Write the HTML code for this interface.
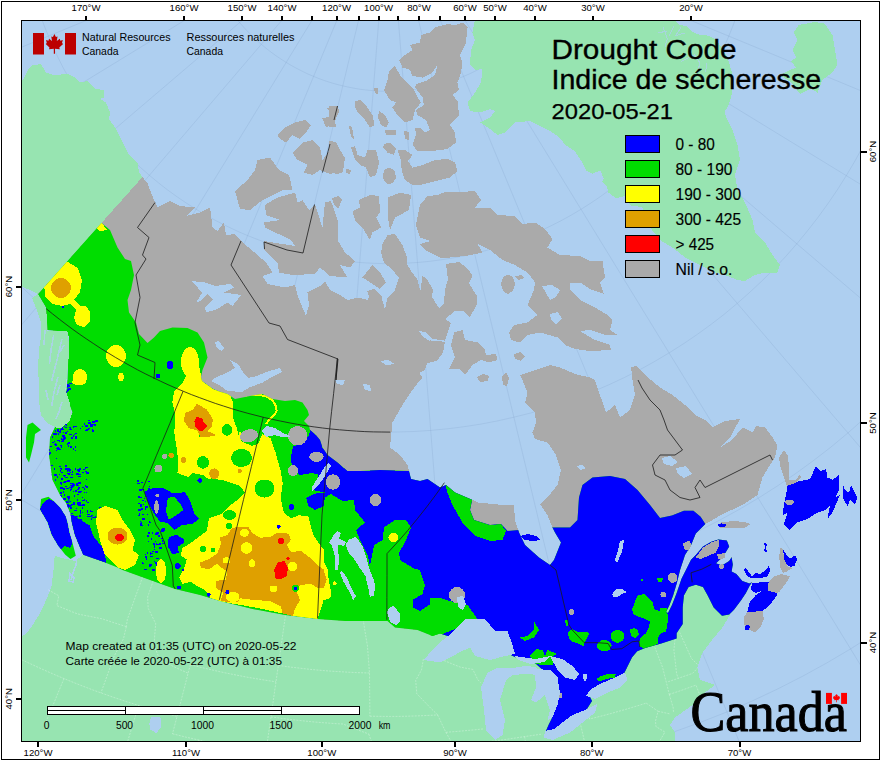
<!DOCTYPE html>
<html><head><meta charset="utf-8"><title>Drought Code</title>
<style>html,body{margin:0;padding:0;background:#fff}svg{display:block}text{font-family:"Liberation Sans",sans-serif;fill:#000}</style>
</head><body>
<svg width="880" height="760" viewBox="0 0 880 760" shape-rendering="crispEdges">
<defs><clipPath id="land">
<polygon points="142.5,177 148,184 150,190 155,202.5 157.5,207.5 170,201 180,206 195,207.5 186,216 200,212.5 210,207.5 212.5,227.5 217.5,231 224,222.5 226,235 235,234 241,241 257.5,255 266,262.5 272.5,272.5 262.5,276 267.5,284 285,287.5 295,285 297.5,295 302.5,307.5 306,316 309,305 307.5,292.5 320,286 325,281 330,290 340,295 347.5,300 357.5,297.5 367.5,300 372.5,292.5 381,295 385,310 387.5,297.5 395,290 399,277.5 405.6,262 411.5,271.7 417.5,279.6 420.4,291.4 422.4,275.6 427,279.5 433,289.5 432,297 439,308 444,303 445,289.5 448,279.5 446,264 459,262 467,268 472.5,275.5 469,283.5 477.5,297 476.5,305 470,317 463,311 455,311 445,319 451,323 449,329 445,340.7 433,339 425,332 419.5,332 431,340.7 445,341.7 443,352.5 437,360.5 427,363.5 425,370 419.5,373 422.5,378 417,384 412.5,390 402.5,405 392.5,422.5 390,447.5 400,455 407.5,465 411,479 420,481 427.5,479 440,487.5 446,485 455,492.5 472.5,500 477.5,502.5 502.5,505 514,505 515,520 519,532.5 525,545 539,557.5 550,565 554,560 561,542.5 555,532.5 552.5,527.5 547.5,515 540,504 547.5,497.5 557.5,485 561,470 556,455 547.5,442.5 535,439 532.5,432.5 536,422.5 535,412.5 525,402.5 527.5,392.5 522.5,380 520,375 532.5,371 550,365 560,367.5 575,374 590,377.5 595,380 600,395 606,412.5 615,405 620,417.5 630,410 635,395 632.5,380 631,367 636,366 645,375 660,387.5 672.5,395 685,405 695,415 705,420 712.5,427.5 725,421 740,419 730,437.5 720,447.5 732,440 742.5,427.5 752.5,432.5 756,426 765,427.5 772.5,437.5 777.5,445 775,457.5 770,465 762.5,477.5 757.5,495 742.5,505 722,514.3 710,521.5 705.3,523.9 695.8,533.4 691,545.3 685,555 680.3,569.2 676.7,583.5 673.1,595.5 669.5,605 666,612 668,613 672,605 676.7,593 681.5,578.8 686.3,569.2 691,559.7 695.8,555 703,546.5 711.3,541.8 718.5,539.4 726.8,540.6 729.2,546.5 725.6,552.5 719.7,559.7 716,563.2 722,565.6 729.2,560.9 731.6,557.3 732.8,564.4 731.6,571.6 736.4,574 742.3,581 749.5,583.5 751.9,582.3 749.5,586 745.9,593 741.1,600.2 734,609.8 729.2,614.6 722,615.8 713.7,607.4 707.7,595.5 703,587 695.8,584.7 688.6,587 683.9,595.5 682.7,607.4 682.7,624 676.6,633.3 676.6,638.4 661.2,643.5 645.8,647.8 637.2,651.2 632.1,657.2 627,667.5 624.5,672.6 607,688 590,697 592,701 585,712 565,725 550,736 545.5,732 549,724 552,718 553,700 550,685 545,672 535,663 515,657 500,650 480,640 460,640 440,633.5 432.5,636 417.5,630 395,627.5 387.5,621 370,621 345,621 317.5,619 285,615 252.5,609 220,601 200,595 175,589 150,580 122.5,570 117.5,567.5 105,562.5 83.2,554.7 79,545.3 74.7,534.7 71.6,522 70.5,513.7 66,503 60,495 52.5,480 49,455 50,437.5 56,425 68,420 72.5,412.5 66,395 67.5,380 69,336 57.5,331 47.5,330 46,307.5 38,294"/>
<polygon points="41,499 48.4,496.8 53.7,501 60,507.4 65.3,515.8 67.4,522 69.5,532.6 72.6,543.2 75.8,555.8 70.5,559 65.3,554.7 57.9,545.3 51.6,534.7 47.4,522 40,509.5"/>
<polygon points="27.5,425 32.5,422.5 41,430 35,434 34,442.5 31,455 29,462.5 26,457.5 26,437.5"/>
</clipPath><clipPath id="frame"><rect x="21" y="20" width="840" height="722"/></clipPath></defs>
<rect x="0" y="0" width="880" height="760" fill="#fff"/>
<rect x="21" y="20" width="840" height="722" fill="#aecff0"/>

<path d="M364.7 -98.8L-850.9 192.2 M365.9 -95.2L-789.1 382.5 M367.6 -91.7L-698.4 560.8 M369.9 -88.6L-580.9 722.7 M372.6 -85.9L-439.4 864.3 M375.7 -83.6L-277.6 981.9 M379.2 -81.9L-99.4 1072.8 M382.8 -80.7L90.9 1134.7 M386.7 -80.1L288.5 1166.0 M390.5 -80.1L488.6 1166.0 M394.3 -80.7L686.2 1134.7 M398.0 -81.9L876.5 1072.8 M401.4 -83.6L1054.8 981.9 M404.6 -85.9L1216.6 864.3 M407.3 -88.6L1358.0 722.7 M409.5 -91.7L1475.6 560.8 M411.3 -95.2L1566.3 382.5 M412.5 -98.8L1628.0 192.2 M413.1 -102.6L1659.2 -5.5 M-492.4 -174.6 L-494.2 -146.9 L-495.1 -119.1 L-495.1 -91.3 L-494.3 -63.6 L-492.5 -35.8 L-489.9 -8.2 L-486.5 19.4 L-482.2 46.8 L-477.0 74.1 L-470.9 101.2 L-464.0 128.1 L-456.3 154.8 L-447.7 181.2 L-438.3 207.4 L-428.1 233.2 L-417.1 258.7 L-405.3 283.8 L-392.7 308.6 L-379.3 332.9 L-365.2 356.9 L-350.3 380.3 L-334.7 403.3 L-318.4 425.8 L-301.4 447.7 L-283.7 469.1 L-265.3 490.0 L-246.3 510.2 L-226.7 529.9 L-206.5 548.9 L-185.6 567.3 L-164.2 585.0 L-142.3 602.0 L-119.8 618.4 L-96.8 634.0 L-73.4 648.9 L-49.5 663.0 L-25.2 676.4 L-0.4 689.0 L24.7 700.9 L50.2 711.9 L76.0 722.1 L102.2 731.5 L128.6 740.1 L155.3 747.9 L182.2 754.8 L209.3 760.9 L236.6 766.1 L264.0 770.4 L291.6 773.9 L319.2 776.5 L346.9 778.3 L374.7 779.1 L402.5 779.1 L430.2 778.3 L458.0 776.5 L485.6 773.9 L513.2 770.4 L540.6 766.1 L567.9 760.9 L595.0 754.8 L621.9 747.9 L648.6 740.1 L675.0 731.5 L701.1 722.1 L727.0 711.9 L752.4 700.9 L777.6 689.0 L802.3 676.4 L826.7 663.0 L850.6 648.9 L874.0 634.0 L897.0 618.4 L919.5 602.0 L941.4 585.0 L962.8 567.3 L983.6 548.9 L1003.9 529.9 L1023.5 510.2 L1042.5 490.0 L1060.9 469.1 L1078.6 447.7 L1095.6 425.8 L1111.9 403.3 L1127.5 380.3 L1142.4 356.9 L1156.5 332.9 L1169.9 308.6 L1182.5 283.8 L1194.3 258.7 L1205.3 233.2 L1215.5 207.4 L1224.9 181.2 L1233.5 154.8 L1241.2 128.1 L1248.1 101.2 L1254.1 74.1 L1259.3 46.8 L1263.7 19.4 L1267.1 -8.2 L1269.7 -35.8 L1271.4 -63.6 L1272.3 -91.3 L1272.3 -119.1 L1271.4 -146.9 L1269.6 -174.6 M-316.3 -160.6 L-317.7 -138.4 L-318.4 -116.2 L-318.4 -94.0 L-317.7 -71.8 L-316.3 -49.6 L-314.3 -27.5 L-311.5 -5.4 L-308.0 16.5 L-303.9 38.4 L-299.1 60.1 L-293.5 81.6 L-287.4 102.9 L-280.5 124.1 L-273.0 145.0 L-264.8 165.7 L-256.0 186.1 L-246.5 206.2 L-236.5 226.0 L-225.8 245.5 L-214.5 264.6 L-202.6 283.4 L-190.1 301.7 L-177.0 319.7 L-163.4 337.3 L-149.3 354.4 L-134.6 371.1 L-119.4 387.3 L-103.7 403.0 L-87.5 418.2 L-70.8 432.9 L-53.7 447.1 L-36.1 460.7 L-18.2 473.8 L0.2 486.3 L19.0 498.2 L38.1 509.5 L57.6 520.2 L77.4 530.3 L97.5 539.8 L117.9 548.6 L138.5 556.8 L159.4 564.4 L180.6 571.2 L201.9 577.4 L223.4 583.0 L245.1 587.8 L267.0 592.0 L288.9 595.4 L311.0 598.2 L333.1 600.3 L355.3 601.7 L377.5 602.4 L399.7 602.4 L421.9 601.7 L444.1 600.3 L466.2 598.2 L488.3 595.4 L510.2 592.0 L532.0 587.8 L553.7 583.0 L575.2 577.4 L596.6 571.2 L617.7 564.4 L638.6 556.8 L659.3 548.6 L679.7 539.8 L699.8 530.3 L719.6 520.2 L739.1 509.5 L758.2 498.2 L776.9 486.3 L795.3 473.8 L813.3 460.7 L830.9 447.1 L848.0 432.9 L864.6 418.2 L880.8 403.0 L896.5 387.3 L911.7 371.1 L926.4 354.4 L940.6 337.3 L954.2 319.7 L967.3 301.7 L979.7 283.4 L991.6 264.6 L1002.9 245.5 L1013.6 226.0 L1023.7 206.2 L1033.2 186.1 L1042.0 165.7 L1050.2 145.0 L1057.7 124.1 L1064.5 102.9 L1070.7 81.6 L1076.2 60.1 L1081.1 38.4 L1085.2 16.5 L1088.7 -5.4 L1091.4 -27.5 L1093.5 -49.6 L1094.9 -71.8 L1095.6 -94.0 L1095.6 -116.2 L1094.8 -138.4 L1093.4 -160.6 M-146.4 -147.1 L-147.4 -130.3 L-148.0 -113.4 L-148.0 -96.5 L-147.5 -79.7 L-146.4 -62.8 L-144.9 -46.0 L-142.8 -29.3 L-140.1 -12.6 L-137.0 3.9 L-133.3 20.4 L-129.1 36.7 L-124.4 52.9 L-119.2 69.0 L-113.5 84.8 L-107.3 100.5 L-100.6 116.0 L-93.5 131.3 L-85.8 146.3 L-77.7 161.1 L-69.1 175.6 L-60.1 189.9 L-50.6 203.8 L-40.7 217.5 L-30.4 230.8 L-19.6 243.8 L-8.5 256.5 L3.1 268.8 L15.0 280.7 L27.3 292.2 L39.9 303.4 L52.9 314.2 L66.2 324.5 L79.9 334.4 L93.8 343.9 L108.1 352.9 L122.6 361.5 L137.4 369.7 L152.4 377.3 L167.6 384.5 L183.1 391.2 L198.8 397.4 L214.7 403.1 L230.7 408.3 L246.9 413.1 L263.2 417.2 L279.7 420.9 L296.3 424.1 L312.9 426.7 L329.7 428.8 L346.5 430.4 L363.3 431.5 L380.2 432.0 L397.0 432.0 L413.9 431.5 L430.7 430.4 L447.5 428.8 L464.2 426.7 L480.9 424.1 L497.5 420.9 L513.9 417.2 L530.3 413.1 L546.5 408.3 L562.5 403.1 L578.4 397.4 L594.0 391.2 L609.5 384.5 L624.8 377.3 L639.8 369.7 L654.6 361.5 L669.1 352.9 L683.3 343.9 L697.3 334.4 L710.9 324.5 L724.3 314.2 L737.2 303.4 L749.9 292.2 L762.2 280.7 L774.1 268.8 L785.7 256.5 L796.8 243.8 L807.5 230.8 L817.9 217.5 L827.8 203.8 L837.3 189.9 L846.3 175.6 L854.9 161.1 L863.0 146.3 L870.6 131.3 L877.8 116.0 L884.5 100.5 L890.7 84.8 L896.4 69.0 L901.6 52.9 L906.3 36.7 L910.5 20.4 L914.2 3.9 L917.3 -12.6 L919.9 -29.3 L922.0 -46.0 L923.6 -62.8 L924.7 -79.7 L925.2 -96.5 L925.2 -113.4 L924.6 -130.3 L923.5 -147.1 M21.6 -133.7 L20.8 -122.2 L20.5 -110.6 L20.5 -99.0 L20.8 -87.5 L21.5 -75.9 L22.6 -64.4 L24.0 -52.9 L25.9 -41.5 L28.0 -30.1 L30.5 -18.8 L33.4 -7.6 L36.6 3.5 L40.2 14.5 L44.1 25.4 L48.4 36.1 L52.9 46.8 L57.9 57.2 L63.1 67.6 L68.7 77.7 L74.6 87.7 L80.8 97.4 L87.3 107.0 L94.1 116.4 L101.2 125.5 L108.5 134.4 L116.2 143.1 L124.1 151.6 L132.3 159.7 L140.7 167.7 L149.4 175.3 L158.3 182.7 L167.4 189.8 L176.8 196.6 L186.4 203.1 L196.1 209.3 L206.1 215.2 L216.2 220.8 L226.5 226.0 L237.0 231.0 L247.6 235.6 L258.4 239.8 L269.3 243.7 L280.3 247.3 L291.4 250.6 L302.6 253.4 L313.9 256.0 L325.3 258.1 L336.7 259.9 L348.2 261.4 L359.7 262.5 L371.2 263.2 L382.8 263.6 L394.4 263.6 L405.9 263.2 L417.5 262.5 L429.0 261.4 L440.5 259.9 L451.9 258.1 L463.3 256.0 L474.6 253.4 L485.8 250.6 L496.9 247.3 L507.9 243.7 L518.8 239.8 L529.5 235.6 L540.2 231.0 L550.6 226.0 L560.9 220.8 L571.1 215.2 L581.0 209.3 L590.8 203.1 L600.4 196.6 L609.7 189.8 L618.9 182.7 L627.8 175.3 L636.5 167.7 L644.9 159.7 L653.1 151.6 L661.0 143.1 L668.6 134.4 L676.0 125.5 L683.1 116.4 L689.9 107.0 L696.4 97.4 L702.6 87.7 L708.5 77.7 L714.1 67.6 L719.3 57.2 L724.2 46.8 L728.8 36.1 L733.1 25.4 L737.0 14.5 L740.5 3.5 L743.8 -7.6 L746.6 -18.8 L749.2 -30.1 L751.3 -41.5 L753.1 -52.9 L754.6 -64.4 L755.6 -75.9 L756.4 -87.5 L756.7 -99.0 L756.7 -110.6 L756.3 -122.2 L755.6 -133.7 M193.3 -120.1 L192.9 -113.9 L192.7 -107.8 L192.7 -101.6 L192.9 -95.5 L193.3 -89.3 L193.9 -83.2 L194.6 -77.1 L195.6 -71.0 L196.7 -65.0 L198.1 -59.0 L199.6 -53.0 L201.3 -47.1 L203.2 -41.2 L205.3 -35.4 L207.6 -29.7 L210.0 -24.0 L212.6 -18.5 L215.4 -13.0 L218.4 -7.6 L221.5 -2.3 L224.8 2.9 L228.3 8.0 L231.9 13.0 L235.7 17.8 L239.6 22.6 L243.7 27.2 L247.9 31.7 L252.2 36.1 L256.7 40.3 L261.3 44.3 L266.1 48.3 L270.9 52.0 L275.9 55.7 L281.0 59.1 L286.2 62.4 L291.5 65.6 L296.9 68.5 L302.4 71.3 L307.9 74.0 L313.6 76.4 L319.3 78.7 L325.1 80.8 L331.0 82.7 L336.9 84.4 L342.8 85.9 L348.8 87.2 L354.9 88.4 L361.0 89.4 L367.1 90.1 L373.2 90.7 L379.4 91.1 L385.5 91.3 L391.7 91.3 L397.8 91.1 L404.0 90.7 L410.1 90.1 L416.2 89.4 L422.3 88.4 L428.3 87.2 L434.3 85.9 L440.3 84.4 L446.2 82.7 L452.1 80.8 L457.9 78.7 L463.6 76.4 L469.2 74.0 L474.8 71.3 L480.3 68.5 L485.7 65.6 L491.0 62.4 L496.2 59.1 L501.3 55.7 L506.2 52.0 L511.1 48.3 L515.8 44.3 L520.5 40.3 L525.0 36.1 L529.3 31.7 L533.5 27.2 L537.6 22.6 L541.5 17.8 L545.3 13.0 L548.9 8.0 L552.4 2.9 L555.7 -2.3 L558.8 -7.6 L561.7 -13.0 L564.5 -18.5 L567.2 -24.0 L569.6 -29.7 L571.9 -35.4 L573.9 -41.2 L575.8 -47.1 L577.6 -53.0 L579.1 -59.0 L580.4 -65.0 L581.6 -71.0 L582.5 -77.1 L583.3 -83.2 L583.9 -89.3 L584.3 -95.5 L584.4 -101.6 L584.4 -107.8 L584.2 -113.9 L583.8 -120.1" fill="none" stroke="#7f9dc4" stroke-opacity="0.32" stroke-width="0.7" shape-rendering="auto" clip-path="url(#frame)"/>
<polygon points="20,84 24,78 28,70 32,65.5 41,64 46,72.5 54,75 67.5,74 75,77.5 80,82.5 87.5,81 95,89 104,90 104,97.5 100,99 106,102.5 110,112.5 109,119 115,127.5 120,137.5 129,155 137.5,162.5 139,172.5 142.5,177 38,294 30,290 20,286" fill="#97e4b1" />
<polygon points="475,19 674,19 679.5,24.8 686.4,26.2 691.8,31.6 698.6,34.4 708.2,35.7 716.4,39.8 721.8,48 727.3,57.5 730,65.7 732.7,75.3 732.7,86.2 731.4,95.7 728.6,105.3 724.5,112 727.3,120 732.5,130 737.5,145 740,160 735,175 737.5,190 745,202.5 752.5,220 755,232.5 765,242.5 772.5,255 780,265 777.5,272.5 765,272.5 755,275 745,281 737.5,280 727.5,276 715,272.5 700,265 685,257.5 672.5,247.5 660,240 652,230 648,220 641.8,207 630.7,205.5 624.3,196 616.4,198.3 608.4,192.7 606.8,186.4 602,181.6 603.6,178.4 600.5,170.5 592.5,173.6 586,170.5 581.4,161 575,151.4 565.5,145 559,137 549.5,130.7 540,126 530,121 515,122.5 505,132.5 497.5,135 490,129 480,122.5 490,117.5 495,111 490,109 480,112.5 470,111 467.5,102.5 475,92.5 481,82.5 482.5,69 475,70 470,65 471,50 475,40 472.5,32.5" fill="#97e4b1" />
<polygon points="798.75,25 815,22 825,23.75 832.5,35 835,50 837.5,65 832.5,72.5 822.5,80 817.5,92.5 810,88.75 800,93.75 791,82.5 780,75 790,70 796,67.5 791,61 796,57.5 792.5,50 797.5,40 793.75,32.5" fill="#97e4b1" />
<polygon points="54.7,555.8 58,557 75,561 83.2,554.7 300,560 660,600 700,575 730,615 722.5,627.5 710,642.5 702.5,652.5 697.5,667.5 700,680 715,685 705,692.5 692.5,705 675,717.5 670,725 675,732.5 675,743 20,743 20,638 22,636 26.3,633.7 32.6,625.3 39,614.7 45.3,602 49.5,591.6 51.6,585.3 53.7,568.4" fill="#97e4b1" />
<path d="M663.2 27.5L667.3 38.5L665.2 46.6M674 26.2L669.3 35.7M680.9 27.5L675.5 35.7L685 33M657.7 33L667.3 31M680.9 61.6L694.5 54.8L700 63L697.3 72.5M706.8 63L705.5 72.5" stroke="#aecff0" stroke-width="1" stroke-opacity="0.7" fill="none"/>
<path d="M48.3 589.8 L53.5 592.8 L58.8 595.8 L56.9 605.6 L63.8 608.4 L70.6 611.2 L77.5 613.9 L83.6 615.2 L89.8 616.4 L95.9 617.6 L102.1 618.8 L108.1 620.8 L114.1 622.8 L120.2 624.7 L126.3 626.6 M142.7 576.8 L139.6 585.3 L136.5 593.8 L133.4 602.3 L130.4 610.9 L127.3 619.5 L126.3 626.6 M126.3 626.6 L123.5 638.7 L118.9 647.3 L114.2 656.0 L110.9 665.2 L107.6 674.4 L104.3 683.6 L100.9 692.9 M13.1 655.5 L19.1 658.4 L25.2 661.4 L31.3 664.2 L37.4 667.0 L43.6 669.8 L49.7 672.5 L55.9 675.2 L62.1 677.8 L68.4 680.4 L74.6 682.9 L80.9 685.4 L87.2 687.8 L93.5 690.2 L99.8 692.5 L106.1 694.7 L112.5 697.0 L118.9 699.1 L125.3 701.3 L131.7 703.3 L138.1 705.3 L144.6 707.3 L151.0 709.2 L157.5 711.1 L164.0 712.9 L170.5 714.7 L177.0 716.4 M153.3 580.6 L150.5 588.8 L147.6 597.0 L148.2 608.2 L151.9 615.9 L155.7 623.6 L154.8 634.3 L154.0 645.1 L159.9 659.9 L166.9 663.3 L173.9 666.7 L181.0 670.0 L188.1 673.2 M190.3 664.7 L188.1 673.2 L185.9 681.8 L183.7 690.4 L181.5 699.0 L179.3 707.7 L177.0 716.4 L174.8 725.1 L172.5 733.8 M190.3 664.7 L196.4 666.2 L202.4 667.7 L208.5 669.1 L214.6 670.5 L220.7 671.9 L226.8 673.2 L232.9 674.4 L239.0 675.6 L245.2 676.8 L251.3 677.9 L257.5 678.9 L263.6 679.9 L269.8 680.9 L276.0 681.8 M285.9 612.5 L284.7 621.1 L283.4 629.7 L282.2 638.4 L281.0 647.0 L279.7 655.7 L278.5 664.4 L277.2 673.1 L276.0 681.8 L274.7 690.5 L273.5 699.3 L272.2 708.1 L271.0 716.9 L269.7 725.8 L268.4 734.6 L267.1 743.5 L265.9 752.4 M172.5 733.8 L179.1 735.4 L185.7 737.1 L192.4 738.6 L199.0 740.1 L205.6 741.6 L212.3 743.0 L218.9 744.4 L225.6 745.7 L232.3 746.9 L239.0 748.1 L245.7 749.3 L252.4 750.4 L259.1 751.4 L265.9 752.4 L272.6 753.4 L279.4 754.2 L286.1 755.1 L292.9 755.9 L291.9 764.8 L290.9 773.8 L289.9 782.8 M278.3 665.4 L284.8 666.3 L291.3 667.2 L297.8 667.9 L304.3 668.7 L310.8 669.4 L317.3 670.0 L323.8 670.6 L330.3 671.1 L336.9 671.5 L343.4 671.9 L349.9 672.3 L356.4 672.6 L363.0 672.8 L369.5 673.0 M271.0 716.9 L277.5 717.8 L284.0 718.7 L290.5 719.5 L297.1 720.2 L303.6 720.9 L310.2 721.6 L316.7 722.2 L323.3 722.7 L329.8 723.2 L336.4 723.7 L343.0 724.0 L349.4 726.6 L355.8 729.1 L362.3 731.6 L368.8 734.0 M363.2 619.4 L364.5 628.1 L365.9 636.9 L367.4 645.6 L368.1 654.7 L368.8 663.9 L369.5 673.0 L369.6 683.8 L369.7 694.5 L369.8 705.3 L369.9 716.2 M369.9 716.2 L376.7 716.3 L383.4 716.4 L390.2 716.4 L397.0 716.4 L403.7 716.3 L410.5 716.1 L417.3 715.9 L424.1 715.6 L430.8 715.3 L437.6 714.9 M423.4 659.1 L421.5 669.8 L415.7 680.5 L416.8 693.7 L423.6 700.8 L430.5 707.9 L437.6 714.9 M445.9 732.3 L453.4 731.7 L460.9 731.1 L468.3 730.4 L475.8 729.7 L483.3 728.9 M437.6 714.9 L441.7 723.6 L445.9 732.3 L452.7 744.4 L441.4 755.9 L438.2 770.6 L437.7 787.0 M378.0 768.7 L385.5 769.1 L393.0 769.5 L400.5 769.9 L408.0 770.2 L415.6 770.4 L423.1 770.5 L430.6 770.6 L438.2 770.6 M368.8 734.0 L373.8 748.4 L375.4 757.5 L376.9 766.5 L384.4 779.2 L394.2 788.3 M290.9 773.8 L298.0 774.6 L305.2 775.3 L312.4 775.9 L319.6 776.5 L326.8 777.1 L334.0 777.6 L341.2 778.0 L348.4 778.3 L355.6 778.6 L362.8 778.9 L370.0 779.0 L377.2 779.2 L384.4 779.2 M138.7 705.5 L136.0 714.1 L133.4 722.7 L130.7 731.3 L128.1 740.0 L125.4 748.6 L122.7 757.3 M64.0 678.6 L60.3 687.5 L56.6 696.5 L52.9 705.5 L49.1 714.6 L45.3 723.6 M199.0 740.1 L196.7 750.1 L194.5 760.1 L192.2 770.2 M488.4 741.6 L495.6 740.7 L502.9 739.8 L510.1 738.8 L517.4 737.7 L524.6 736.6 L533.5 735.3 L542.5 734.0 M488.4 741.6 L489.7 752.6 L491.0 763.6 L492.3 774.7 L493.6 785.8 M524.6 736.6 L526.3 747.5 L528.1 758.4 L529.9 769.4 L531.7 780.5 M578.6 716.1 L580.9 726.0 L583.2 735.9 L585.5 745.9 L589.2 761.8 M588.5 714.3 L589.7 719.0 L596.8 717.2 L603.9 715.4 L611.0 713.5 L618.1 711.5 L625.2 709.5 L632.2 707.4 L639.2 705.3 L646.2 703.1 M589.1 761.4 L596.2 759.7 L603.4 758.0 L610.5 756.2 L617.6 754.3 L624.6 752.4 L631.7 750.4 L638.7 748.4 L645.7 746.3 L652.7 744.2 M653.7 644.3 L658.1 655.8 L662.6 667.4 L664.8 676.4 L667.1 685.4 L669.3 694.4 M675.3 636.3 L673.9 650.1 L675.3 661.9 L676.6 673.7 L678.2 678.3 M668.2 681.7 L676.3 679.0 L684.4 676.2 L692.5 673.4 L697.5 668.2 M678.3 629.4 L682.7 639.1 L687.1 648.8 L691.5 658.5 L697.4 664.4 M669.3 694.4 L676.0 692.2 L682.7 689.9 L689.3 687.5 L696.0 685.1 L700.0 695.5 M669.3 694.4 L673.1 707.3 L673.6 712.9 M646.2 703.1 L658.1 711.3 L655.5 720.9 L655.9 726.5 L664.9 732.1 L657.4 745.0 M658.1 711.3 L670.4 714.0 M444.0 660.5 L452.1 663.9 L460.3 667.1 L466.6 668.3 L472.8 669.4 L477.7 679.5 L480.6 682.7" fill="none" stroke="#fff" stroke-opacity="0.42" stroke-width="0.7" stroke-dasharray="2 1.2" shape-rendering="auto" clip-path="url(#frame)"/>
<polygon points="151.2,716.8 160.8,717.6 161.0,727.0 156.5,733.2 150.4,729.6 149.3,723.7" fill="#aecff0"/>
<polygon points="142.5,177 148,184 150,190 155,202.5 157.5,207.5 170,201 180,206 195,207.5 186,216 200,212.5 210,207.5 212.5,227.5 217.5,231 224,222.5 226,235 235,234 241,241 257.5,255 266,262.5 272.5,272.5 262.5,276 267.5,284 285,287.5 295,285 297.5,295 302.5,307.5 306,316 309,305 307.5,292.5 320,286 325,281 330,290 340,295 347.5,300 357.5,297.5 367.5,300 372.5,292.5 381,295 385,310 387.5,297.5 395,290 399,277.5 405.6,262 411.5,271.7 417.5,279.6 420.4,291.4 422.4,275.6 427,279.5 433,289.5 432,297 439,308 444,303 445,289.5 448,279.5 446,264 459,262 467,268 472.5,275.5 469,283.5 477.5,297 476.5,305 470,317 463,311 455,311 445,319 451,323 449,329 445,340.7 433,339 425,332 419.5,332 431,340.7 445,341.7 443,352.5 437,360.5 427,363.5 425,370 419.5,373 422.5,378 417,384 412.5,390 402.5,405 392.5,422.5 390,447.5 400,455 407.5,465 411,479 420,481 427.5,479 440,487.5 446,485 455,492.5 472.5,500 477.5,502.5 502.5,505 514,505 515,520 519,532.5 525,545 539,557.5 550,565 554,560 561,542.5 555,532.5 552.5,527.5 547.5,515 540,504 547.5,497.5 557.5,485 561,470 556,455 547.5,442.5 535,439 532.5,432.5 536,422.5 535,412.5 525,402.5 527.5,392.5 522.5,380 520,375 532.5,371 550,365 560,367.5 575,374 590,377.5 595,380 600,395 606,412.5 615,405 620,417.5 630,410 635,395 632.5,380 631,367 636,366 645,375 660,387.5 672.5,395 685,405 695,415 705,420 712.5,427.5 725,421 740,419 730,437.5 720,447.5 732,440 742.5,427.5 752.5,432.5 756,426 765,427.5 772.5,437.5 777.5,445 775,457.5 770,465 762.5,477.5 757.5,495 742.5,505 722,514.3 710,521.5 705.3,523.9 695.8,533.4 691,545.3 685,555 680.3,569.2 676.7,583.5 673.1,595.5 669.5,605 666,612 668,613 672,605 676.7,593 681.5,578.8 686.3,569.2 691,559.7 695.8,555 703,546.5 711.3,541.8 718.5,539.4 726.8,540.6 729.2,546.5 725.6,552.5 719.7,559.7 716,563.2 722,565.6 729.2,560.9 731.6,557.3 732.8,564.4 731.6,571.6 736.4,574 742.3,581 749.5,583.5 751.9,582.3 749.5,586 745.9,593 741.1,600.2 734,609.8 729.2,614.6 722,615.8 713.7,607.4 707.7,595.5 703,587 695.8,584.7 688.6,587 683.9,595.5 682.7,607.4 682.7,624 676.6,633.3 676.6,638.4 661.2,643.5 645.8,647.8 637.2,651.2 632.1,657.2 627,667.5 624.5,672.6 607,688 590,697 592,701 585,712 565,725 550,736 545.5,732 549,724 552,718 553,700 550,685 545,672 535,663 515,657 500,650 480,640 460,640 440,633.5 432.5,636 417.5,630 395,627.5 387.5,621 370,621 345,621 317.5,619 285,615 252.5,609 220,601 200,595 175,589 150,580 122.5,570 117.5,567.5 105,562.5 83.2,554.7 79,545.3 74.7,534.7 71.6,522 70.5,513.7 66,503 60,495 52.5,480 49,455 50,437.5 56,425 68,420 72.5,412.5 66,395 67.5,380 69,336 57.5,331 47.5,330 46,307.5 38,294" fill="#aaaaaa" />
<polygon points="264,241 295,246 291,240 265,227.5 264,222.5 280,220 266,215 265,205 277.5,197.5 295,192.5 297.5,202.5 302.5,200 309,210 315,204 320,220 322.5,227.5 325,202.5 331,201 337.5,220 337.5,240 345,252.5 355,261 350,267.5 340,265 347.5,277.5 330,276 320,267.5 315,274 292.5,275 279,272.5 277.5,262.5 270,256 264,250" fill="#aaaaaa" />
<polygon points="257.5,160 270,157.5 279,170 289,175 292.5,190 282.5,190 262.5,200 250,210 240,209 235,191 247.5,180 255,170" fill="#aaaaaa" />
<polygon points="332,198 338,196 342,200 338,209 334,205" fill="#aaaaaa" />
<polygon points="352.5,211 360,207.5 359,200 370,195 379,196 380,212.5 376,217.5 381,227.5 372.5,232.5 370,240 364,230 355,220" fill="#aaaaaa" />
<polygon points="387.5,197.5 400,192.5 411,195 409,210 400,215 395,217.5 390,230 387.5,215" fill="#aaaaaa" />
<polygon points="382.5,244 387.5,235 395,234 402.5,245 407.5,259 406,268 399,278 392.5,270 384,262.5 381,252.5" fill="#aaaaaa" />
<polygon points="362.5,277.5 372.5,265 380,272.5 386,282.5 380,289 370,282.5" fill="#aaaaaa" />
<polygon points="367,291 374,289 382,296 378,302 370,299" fill="#aaaaaa" />
<polygon points="420,205 427.5,196 437.5,195 445,192 455,192.5 475,191 481,200 475,207.5 490,207.5 497.5,215 515,216 522.5,224 535,222.5 545,229 552.5,239 547.5,247.5 560,255 580,256 590,261 602.5,261 605,277.5 600,282.5 604,294 590,289 580,282.5 570,282.5 570,290 580,300 595,307.5 607.5,315 612.5,320 610,330 617.5,335 605,335 590,330 580,331 595,340 610,345 611,350 590,351 575,349 565,345 557.5,337.5 540,332.5 527.5,335 520,342.5 511,340 509,332.5 514,325 527.5,322.5 537.5,315 527.5,305 534,290 535,282.5 527.5,272.5 515,265 502.5,260 490,250 477.5,244 482.5,252.5 465,256 450,257.5 440,257.5 425,250 420,244 431,241 420,237.5 416,225" fill="#aaaaaa" />
<polygon points="454,332.5 462.5,330 465,340 477.5,342.5 485,350 486,355 496,354 497.5,360 489,362.5 481,360 472.5,365 465,375 459,369 449,369 455,357.5 451,345" fill="#aaaaaa" />
<polygon points="501,284 503,277 508,274.5 513,277 515,284 513,291 508,294 503,291" fill="#aaaaaa" />
<polygon points="515,276 522,275 524,278 518,280" fill="#aaaaaa" />
<polygon points="477,377 483,374 489,376 488,381 480,382" fill="#aaaaaa" />
<polygon points="514,354 520,352 525,356 521,361 515,359" fill="#aaaaaa" />
<polygon points="502,377 506,372 509,378 507,386 503,385" fill="#aaaaaa" />
<polygon points="440,26 447.5,24 455,25 462.5,22.5 467.5,27.5 466,42.5 460,55 462.5,62.5 461,72.5 457.5,82.5 459,90 452.5,95 457.5,101 459,115 450,125 455,132.5 456,142.5 447.5,149 432.5,151 417.5,151 412.5,145 416,135 415,127.5 420,127.5 425,132.5 430,130 426,120 417.5,115 416,110 424,105 422.5,97.5 415,87.5 416,84 426,81 435,75 437.5,65 432.5,72.5 422.5,77.5 412.5,76 410,70 402.5,67.5 399,60 405,55 412.5,50 410,45 420,42.5 421,35 430,32.5 435,27.5" fill="#aaaaaa" />
<polygon points="395,66 400,75 405,81 412.5,87.5 417.5,97.5 421,102.5 415,110 412.5,120 405,122.5 397.5,115 392.5,107.5 396,102.5 390,100 384,90 387.5,80 389,71" fill="#aaaaaa" />
<polygon points="397.5,150 405,150 412.5,155 408,161 412.5,167.5 422.5,165 435,160 447.5,159 455,162.5 457.5,171 450,177.5 440,180 430,182.5 420,185 412.5,185 405,180 402.5,172.5 401,165 401,160" fill="#aaaaaa" />
<polygon points="355,101 361,100 367.5,107.5 372.5,115 374.5,125 370,127.5 365,120 359,114 355,107.5" fill="#aaaaaa" />
<polygon points="379,111 385,115 389,122.5 386,127.5 381,125 378,117.5" fill="#aaaaaa" />
<polygon points="385,130 395.5,129.5 395.5,135 386,135" fill="#aaaaaa" />
<polygon points="384,144 390,142.5 396,149 394,155 387.5,152.5 383,147.5" fill="#aaaaaa" />
<polygon points="404,131 409,132 409,140 405,139" fill="#aaaaaa" />
<polygon points="349,126 352,127 354,139 351,137" fill="#aaaaaa" />
<polygon points="374,88 377.5,87.5 377.5,94 375,93" fill="#aaaaaa" />
<polygon points="329,106 338,106 339,112 335,120 336,127 329,127" fill="#aaaaaa" />
<polygon points="329,141 336,142 340,150 345,158 343,172 337,174 329,172" fill="#aaaaaa" />
<polygon points="351,147.5 355,146 357.5,155 365,157.5 367.5,150 376,150 379,162.5 376,175 370,177.5 366,167.5 360,165 355,160" fill="#aaaaaa" />
<polygon points="382.5,175 385,169 390,167.5 395,171 396,178 393,183 388,184 384,181" fill="#aaaaaa" />
<polygon points="346,169 351,170 350,174 346,173" fill="#aaaaaa" />
<polygon points="277.5,135 285,127.5 295,122.5 305,120 311,125 306,132.5 300,139 292.5,135 286,142.5 280,139" fill="#aaaaaa" />
<polygon points="326,108 337,106.5 338,110 331,112.5" fill="#aaaaaa" />
<polygon points="322,118 336,116 335,124 326,127" fill="#aaaaaa" />
<polygon points="292.5,152.5 302.5,142.5 312.5,140 320,147.5 322.5,160 330,150 335,141 337.5,155 345,157.5 342.5,170 330,174 320,170 312.5,175 304,172.5 307.5,165 297.5,160" fill="#aaaaaa" />
<clipPath id="data"><polygon points="96,228 101,222.5 110,230 117.5,247.5 125,259 131,261 134,275 131,290 127.5,300 129,312.5 136,322.5 139,334 147.5,343 154,337.5 160,331 172.5,327.5 187.5,328 197.5,332.5 204,342.5 207.5,357.5 202.5,370 201,377 202,381 213,389 219.3,391.4 227.5,394 235,399 250,396 262.5,394 272.5,399 285,401 295,400 302.5,402.5 307.5,410 309,415 304,421 309,426 310,430 315,434 320,440 322.5,447.5 327.5,455 337.5,462.5 347.5,471 360,471 380,470 410,471 415,476 446,480 472.5,498 470,510 474,520 490,525 501,524 507.5,531 519,530 530,520 552.5,527.5 570,527.5 577.5,520 579,497.5 582.5,485 592.5,477.5 610,476 625,479 637.5,490 650,505 660,518 672,515.5 683.9,510.7 693.4,510.7 700.6,516.7 705.3,523.9 712,532 740,535 756,585 750,600 735,640 700,745 0,745 0,294 38,294"/></clipPath>
<g clip-path="url(#land)"><g clip-path="url(#data)">
<rect x="0" y="200" width="880" height="560" fill="#00dd00"/>
<polygon points="410,471 380,470 360,471 347.5,471 337.5,462.5 329.8,454.8 322.6,448.6 321.6,438.4 313.4,433.3 310.3,430.2 308.3,436.4 303,442.5 293,446.6 290.9,456.8 291,462.5 299,475.2 311.4,473.2 317.5,474 319,480 312.5,490 325,492.5 315.4,493.6 306.2,497.7 308.3,506 315.4,510 323.6,506 325,497.5 331,494 342.5,501 354,500 355,510 365,522.5 356,530 360,540 367.5,555 370,566 374,545 382.5,540 384,527.5 395,520 406,520 411,527.5 405,542.5 399,552.5 400,560 415,569 420,570 425,585 422.5,594 412.5,600 412.5,607.5 420,611 432.5,602.5 440,600 455,602.5 467.5,605 477.5,619 465,620 455,629 440,635 430,640 430,740 800,740 800,400 420,400" fill="#0000ff" />
<polygon points="444,480 455,488 472.5,499 470,510 474,520 490,525 501,524 506,531 502.5,540 490,541 475,536 462.5,522.5 452.5,505 447.5,492.5" fill="#00dd00" />
<polygon points="637.2,595.7 644,594 652.6,602.5 654.3,609.3 659.5,611 666.3,614.5 667.2,623 663.7,629.9 658.6,636.7 657.7,643.5 650.9,647 643.2,648.7 638.9,645.3 639.8,638.4 645.8,633.3 649.2,626.4 650,621.3 644.9,618.7 638.9,617 633.8,614.5 632.1,609.3 634.7,602.5" fill="#00dd00" />
<polygon points="629.5,629.9 633.8,628.2 638.1,629.9 638.9,635 635.5,638.4 631.2,635.8" fill="#00dd00" />
<polygon points="568,632.4 572.2,629 577.4,631.6 586.8,631.6 589.3,633.3 585.9,640.1 583.4,646.1 578.2,643.5 572.2,641.8 568.8,638.4" fill="#00dd00" />
<polygon points="565,620 567.5,619.6 568,626 566,626.4" fill="#00dd00" />
<polygon points="534,621 539,630 534,637.5 525,641 520,637.5 527.5,636 534,630" fill="#00dd00" />
<polygon points="530,656 536,649 542.5,650 545,656 547.5,650 557.5,654 552.5,656 552.5,665 540,665 534,662.5" fill="#00dd00" />
<polygon points="597,678.6 601.3,676 608.1,674 615.8,674.3 615,677.7 608.1,678.6 601.3,680.8 597.9,681.2" fill="#00dd00" />
<polygon points="440,598 455,602.5 467.5,605 477.5,619 465,620 455,629 440,635 430,636 430,598" fill="#00dd00" />
<polygon points="660,608 667,608 668,620 666,632 660,633" fill="#00dd00" />
<polygon points="640.6,578.5 643.2,579 642.5,581 640.8,580.5" fill="#00dd00" />
<polygon points="657,578 662.9,577.7 662,582 658,581.5" fill="#00dd00" />
<ellipse cx="617.5" cy="636.3" rx="6.8" ry="6.4" fill="#00dd00"/>
<ellipse cx="604.3" cy="645.7" rx="7.3" ry="5.6" fill="#00dd00"/>
<polygon points="144.7,491.3 154,487.6 165,488.6 172.4,493.2 185.3,492.3 190.8,502.4 194.5,513.5 199.1,519 192.7,523.6 181.6,525.4 174.2,530 166.9,522.7 160,522 153,512 148,502" fill="#0000ff" />
<polygon points="168.7,537.4 176.1,534.7 184.4,539.3 183.5,543 177.9,546.6 178.8,553 172.4,554 167.8,546.6" fill="#0000ff" />
<polygon points="167.8,497.8 174.2,496.9 180.7,504.2 183.5,509.8 176.1,515.3 168.7,519.9 165.9,511.6 166.9,504.2" fill="#00dd00" />
<polygon points="70,513.7 73.7,515.8 89.5,525.3 93.7,536.8 104.2,549.5 106.3,563 83.2,555.5 79,545.3 74.7,534.7 71.6,522" fill="#0000ff" />
<polygon points="43,503 48.4,499 53.7,501 60,507.4 65.3,515.8 67.4,522 69.5,532.6 72.6,543.2 70,548 64,546 60,550 57.9,545.3 51.6,534.7 47.4,522 40,509.5" fill="#0000ff" />
<path d="M66 384h1v1h-1zM69 383h3v1h-3zM69 385h1v2h-1zM67 385h3v2h-3zM64 389h1v1h-1zM67 387h1v1h-1zM67 384h2v1h-2zM67 389h3v1h-3zM65 389h1v2h-1zM65 391h3v1h-3zM68 388h3v2h-3zM69 388h2v2h-2zM66 392h1v1h-1zM67 389h2v2h-2zM59 440h1v2h-1zM56 426h2v2h-2zM53 433h3v2h-3zM60 426h2v2h-2zM54 420h2v2h-2zM68 419h2v2h-2zM59 426h2v1h-2zM74 426h3v1h-3zM63 423h2v1h-2zM69 427h2v1h-2zM56 427h2v1h-2zM71 437h2v2h-2zM75 433h2v1h-2zM55 422h1v1h-1zM52 436h1v2h-1zM58 421h3v2h-3zM66 425h1v1h-1zM63 437h3v2h-3zM61 427h2v2h-2zM53 419h1v2h-1zM56 425h1v1h-1zM52 421h1v2h-1zM66 420h1v2h-1zM55 424h2v2h-2zM63 421h2v2h-2zM63 425h1v1h-1zM69 434h2v1h-2zM64 423h3v2h-3zM55 430h1v2h-1zM75 437h2v2h-2zM73 426h1v2h-1zM67 431h1v1h-1zM71 434h1v1h-1zM64 426h1v1h-1zM70 428h1v2h-1zM62 439h2v2h-2zM54 420h2v1h-2zM60 429h3v1h-3zM63 432h1v1h-1zM73 435h1v2h-1zM93 424h2v1h-2zM92 430h2v2h-2zM86 429h1v1h-1zM95 420h3v2h-3zM92 421h3v2h-3zM90 424h3v1h-3zM80 428h1v1h-1zM87 429h1v1h-1zM84 423h1v2h-1zM84 424h1v1h-1zM94 424h2v2h-2zM92 429h1v1h-1zM88 420h2v1h-2zM89 428h1v1h-1zM82 426h1v1h-1zM85 425h3v2h-3zM92 421h3v1h-3zM84 423h1v2h-1zM88 428h1v2h-1zM85 430h3v1h-3zM90 425h3v2h-3zM88 422h3v2h-3zM73 448h1v2h-1zM57 430h2v2h-2zM56 433h1v1h-1zM68 445h1v2h-1zM57 447h2v1h-2zM70 429h2v1h-2zM75 446h1v2h-1zM75 436h2v1h-2zM61 429h2v1h-2zM61 438h1v2h-1zM61 441h3v1h-3zM56 448h1v1h-1zM56 433h1v2h-1zM70 446h2v2h-2zM57 448h3v2h-3zM69 429h1v1h-1zM63 429h1v1h-1zM71 429h1v1h-1zM60 430h1v2h-1zM75 437h2v1h-2zM55 443h1v1h-1zM59 431h2v2h-2zM65 432h2v1h-2zM60 445h2v1h-2zM54 444h3v1h-3zM65 433h2v1h-2zM68 442h2v2h-2zM74 434h1v1h-1zM61 446h1v2h-1zM75 450h1v1h-1zM55 444h2v2h-2zM57 429h2v2h-2zM67 443h1v2h-1zM58 433h1v2h-1zM62 435h3v2h-3zM59 449h2v1h-2zM61 427h2v1h-2zM64 439h1v1h-1zM65 427h2v1h-2zM57 440h2v1h-2zM68 500h1v1h-1zM78 504h3v2h-3zM81 505h2v1h-2zM68 499h1v1h-1zM82 504h3v2h-3zM80 510h1v1h-1zM82 497h1v1h-1zM61 472h2v1h-2zM70 490h1v1h-1zM77 502h2v2h-2zM60 509h3v1h-3zM78 469h2v2h-2zM82 512h1v1h-1zM66 501h2v2h-2zM83 469h2v1h-2zM77 500h1v1h-1zM69 501h2v1h-2zM60 468h2v1h-2zM79 502h2v2h-2zM73 491h1v1h-1zM68 470h2v1h-2zM68 469h3v2h-3zM87 486h1v1h-1zM76 473h3v2h-3zM86 472h3v2h-3zM84 504h1v2h-1zM84 492h1v1h-1zM60 492h2v2h-2zM68 473h2v2h-2zM69 511h1v2h-1zM80 511h1v1h-1zM79 515h2v2h-2zM70 487h3v1h-3zM70 489h2v1h-2zM68 468h2v1h-2zM67 480h3v2h-3zM65 486h2v1h-2zM82 500h3v1h-3zM79 468h2v2h-2zM77 473h2v2h-2zM61 516h1v1h-1zM73 484h2v2h-2zM80 519h2v2h-2zM78 482h3v2h-3zM63 500h1v1h-1zM74 510h3v1h-3zM72 483h2v2h-2zM64 476h1v1h-1zM69 470h1v2h-1zM67 496h1v2h-1zM70 506h1v2h-1zM67 506h2v2h-2zM76 485h3v1h-3zM63 514h2v2h-2zM77 489h2v1h-2zM63 488h2v2h-2zM60 487h3v2h-3zM86 479h1v1h-1zM64 494h1v2h-1zM62 508h1v1h-1zM66 516h2v1h-2zM77 494h2v1h-2zM63 482h3v1h-3zM70 477h3v1h-3zM60 482h2v2h-2zM86 500h1v2h-1zM74 495h1v2h-1zM79 482h1v1h-1zM73 502h2v1h-2zM67 502h2v1h-2zM73 503h2v2h-2zM78 476h2v1h-2zM66 518h2v1h-2zM66 477h2v1h-2zM86 492h1v1h-1zM73 515h1v1h-1zM85 468h1v1h-1zM71 504h1v2h-1zM72 504h2v1h-2zM87 516h2v1h-2zM65 516h2v1h-2zM68 505h2v2h-2zM72 471h1v2h-1zM62 488h1v1h-1zM70 507h2v2h-2zM62 504h1v2h-1zM75 490h2v2h-2zM80 491h2v1h-2zM82 507h1v2h-1zM61 468h1v2h-1zM65 468h3v2h-3zM70 483h3v1h-3zM67 504h2v2h-2zM68 505h3v1h-3zM61 478h2v2h-2zM86 486h2v2h-2zM82 472h2v1h-2zM60 516h2v1h-2zM76 483h2v2h-2zM70 508h1v1h-1zM71 474h2v1h-2zM78 491h3v2h-3zM64 488h1v1h-1zM67 470h1v2h-1zM73 504h2v1h-2zM66 488h3v1h-3zM80 512h1v2h-1zM68 496h2v2h-2zM80 476h1v1h-1zM67 473h3v1h-3zM69 487h1v1h-1zM78 471h2v1h-2zM63 491h1v2h-1zM85 467h2v1h-2zM63 475h3v1h-3zM85 485h1v2h-1zM76 508h1v1h-1zM77 504h2v1h-2zM61 484h1v1h-1zM87 467h1v1h-1zM82 487h2v1h-2zM77 469h1v2h-1zM75 468h1v2h-1zM78 474h3v1h-3zM78 487h2v2h-2zM87 502h2v1h-2zM68 496h2v2h-2zM71 513h2v1h-2zM71 487h1v2h-1zM84 488h1v2h-1zM76 485h1v1h-1zM60 495h2v1h-2zM75 516h3v1h-3zM64 481h3v1h-3zM85 471h2v1h-2zM68 511h1v2h-1zM68 498h2v1h-2zM84 499h1v1h-1zM77 499h1v2h-1zM65 477h2v1h-2zM70 472h1v1h-1zM61 496h1v2h-1zM63 498h3v2h-3zM78 482h1v2h-1zM71 485h3v2h-3zM65 465h2v2h-2zM66 507h2v1h-2zM82 487h1v1h-1zM70 485h2v1h-2zM61 472h2v1h-2zM138 503h2v1h-2zM137 483h3v1h-3zM140 524h2v2h-2zM149 521h1v1h-1zM138 496h2v1h-2zM141 508h2v1h-2zM140 523h2v1h-2zM145 508h1v2h-1zM142 489h2v1h-2zM145 493h2v2h-2zM139 515h1v1h-1zM145 496h2v1h-2zM140 504h2v2h-2zM140 525h3v1h-3zM142 514h2v1h-2zM139 513h1v2h-1zM148 491h3v2h-3zM147 514h1v1h-1zM141 508h2v2h-2zM149 486h1v1h-1zM137 480h2v2h-2zM138 496h1v2h-1zM145 507h1v2h-1zM145 501h1v1h-1zM149 491h1v2h-1zM138 509h2v2h-2zM148 524h1v2h-1zM145 506h3v2h-3zM140 521h1v1h-1zM144 498h1v1h-1zM138 515h1v1h-1zM139 489h3v2h-3zM148 488h2v1h-2zM141 482h2v1h-2zM142 500h2v1h-2zM147 500h1v1h-1zM140 509h1v2h-1zM149 522h2v1h-2zM140 505h2v2h-2zM141 522h1v1h-1zM148 481h2v1h-2zM148 489h1v2h-1zM139 497h3v1h-3zM142 518h3v2h-3zM143 504h1v1h-1zM149 564h3v2h-3zM156 558h3v1h-3zM151 553h1v1h-1zM142 562h1v2h-1zM160 564h1v1h-1zM143 563h1v1h-1zM155 551h3v2h-3zM144 569h3v1h-3zM158 565h2v1h-2zM145 554h1v1h-1zM159 568h1v2h-1zM150 553h1v2h-1zM146 558h1v2h-1zM145 556h2v2h-2zM155 562h2v2h-2zM152 551h2v1h-2zM149 565h2v2h-2zM154 561h1v1h-1zM151 556h2v1h-2zM150 556h1v1h-1zM147 552h1v2h-1zM152 569h3v2h-3zM152 553h1v1h-1zM150 552h1v2h-1zM156 564h1v2h-1zM90 511h2v1h-2zM91 515h2v1h-2zM90 511h3v1h-3zM91 518h1v2h-1zM87 514h3v1h-3zM90 510h1v2h-1zM95 516h1v2h-1zM92 517h3v1h-3zM87 512h1v1h-1zM89 516h3v1h-3zM96 520h2v2h-2zM87 510h1v2h-1zM100 516h1v1h-1zM99 507h2v1h-2zM100 517h2v2h-2zM152 532h1v2h-1zM151 538h1v1h-1zM154 546h1v2h-1zM155 533h3v2h-3zM147 535h2v2h-2zM162 543h3v1h-3zM159 543h2v2h-2zM153 543h1v2h-1zM151 538h1v2h-1zM162 540h1v2h-1zM156 543h1v2h-1zM161 538h2v1h-2zM148 541h1v1h-1zM156 532h3v2h-3zM157 544h3v1h-3zM159 547h3v2h-3zM154 549h1v1h-1zM154 545h1v2h-1zM158 535h2v2h-2zM148 532h2v2h-2zM157 532h2v2h-2zM164 541h1v2h-1zM155 533h1v1h-1zM155 541h1v1h-1zM153 543h2v2h-2zM60 470h1v2h-1zM50 474h2v2h-2zM55 479h1v2h-1zM45 469h2v2h-2zM49 452h2v2h-2zM51 465h2v1h-2zM59 474h1v1h-1zM57 476h1v2h-1zM54 441h1v1h-1zM59 466h2v1h-2zM54 474h1v2h-1zM50 446h2v1h-2zM54 468h1v2h-1zM48 468h3v1h-3zM56 458h1v1h-1zM49 449h1v2h-1zM52 442h2v1h-2zM56 450h1v1h-1zM47 453h3v2h-3zM55 474h2v2h-2z" fill="#0000ff"/>
<polygon points="186.6,375 190,348 196,350 200.9,375 202,381 213,389 219.3,391.4 229.5,393.4 232.6,401.6 232.6,416 236.7,428 238.7,436.4 241,441 252,446 258,444 262.3,434.3 270.5,438.4 275.6,452.7 280.7,471 282.7,483.4 280.7,497.7 283.7,512.3 290.9,518.4 299,515.3 308.3,516.4 310.3,524.5 313.4,534.8 318.5,543 323.6,549 323.6,561.3 327.7,569.5 328.7,579.8 330.8,590 329.8,598.2 323.6,600.2 321.6,606.4 317.5,619 293,616 282.7,613.5 258,608 221.4,601.6 211,598.2 205,590 196.8,585.9 190.7,581.8 182.5,583.9 179.4,577.7 184.5,567.5 186.6,559.3 180.5,555.2 182.5,548 190.7,543 198.9,536.8 207,530.7 209,518 221.4,514 229.5,506 237.7,499.8 241.8,492.6 233.6,486.5 221.4,481.4 213,477.3 209,479.3 203,475 192.7,473 188.6,477.3 177.4,473 178.4,461 176.4,446.6 174.3,432.3 175.3,416 172.3,401.6 174.3,391.4 182.5,383" fill="#ffff00" />
<polygon points="44,282 50,270 58,264 68,262 78,268 82,280 80,292 74,300 80,306 86,306 90,312 90,322 84,327 77,325 74,318 76,310 70,304 62,306 52,304 45,296" fill="#ffff00" />
<polygon points="97.5,510 105,506 117.5,510 122.5,520 130,530 135,540 132.5,550 139,555 135,565 125,570 117.5,567.5 105,555 100,540 96,522.5" fill="#ffff00" />
<polygon points="96,227.5 101,222.5 107.5,230 100,231" fill="#ffff00" />
<ellipse cx="116" cy="356" rx="10" ry="11" fill="#ffff00"/>
<ellipse cx="80" cy="377" rx="7" ry="8" fill="#ffff00"/>
<ellipse cx="121" cy="377" rx="3" ry="4" fill="#ffff00"/>
<ellipse cx="161" cy="571" rx="5" ry="12" fill="#ffff00"/>
<ellipse cx="393.5" cy="537.5" rx="5" ry="4.5" fill="#ffff00"/>
<ellipse cx="327.5" cy="594" rx="4" ry="4" fill="#ffff00"/>
<ellipse cx="335" cy="583" rx="1.5" ry="1.5" fill="#ffff00"/>
<ellipse cx="334.7" cy="583.3" rx="2" ry="2" fill="#ffff00"/>
<ellipse cx="79" cy="382" rx="7" ry="3" fill="#ffff00"/>
<ellipse cx="190" cy="362" rx="9" ry="15" fill="#ffff00"/>
<ellipse cx="227" cy="430" rx="5.5" ry="5.8" fill="#00dd00"/>
<ellipse cx="203" cy="462.5" rx="6" ry="6.3" fill="#00dd00"/>
<ellipse cx="202" cy="435.5" rx="3.2" ry="2" fill="#00dd00"/>
<ellipse cx="241.5" cy="458" rx="10.5" ry="9" fill="#00dd00"/>
<ellipse cx="264.5" cy="488.5" rx="10" ry="9" fill="#00dd00"/>
<ellipse cx="229.5" cy="515" rx="6.5" ry="5" fill="#00dd00"/>
<ellipse cx="203" cy="549" rx="3.5" ry="3" fill="#00dd00"/>
<ellipse cx="213" cy="550" rx="2.5" ry="2.5" fill="#00dd00"/>
<ellipse cx="229" cy="526" rx="3" ry="3" fill="#00dd00"/>
<ellipse cx="204" cy="461" rx="1" ry="1" fill="#00dd00"/>
<polygon points="222,480 240,486 245,492.6 237.7,499.8 229.5,506 221.4,514 215,510 212,495 215,482" fill="#00dd00" />
<path d="M229.5 393.4 C240 398 250 394 262 395.5 C272 397 277 405 276.5 411 C275 416 268 420 266 424 M240 432 C238 440 242 446 250 448.5 C256 450 262 451 266.5 452" fill="none" stroke="#ffff00" stroke-width="2"/>
<polygon points="196.8,403.6 207,409.8 212.8,419 212.2,426 207,431 215.2,434.3 215.2,436 201,437.4 196.8,430.2 188.6,428.2 183.5,420 185.6,412.8 192.7,409.8" fill="#dfa000" />
<polygon points="237.7,526.6 248,526.6 252,532.7 260.2,537.8 270.5,536.8 277.6,532.7 288.9,533.7 290.9,539.9 286.8,545 290.9,552 301,551 309.3,557.3 317.5,565.4 323.6,569.5 326.7,579.8 323.6,588 317.5,588 311.4,583.9 301.1,584.9 296,590 300.1,600.2 295,608.4 293,616 282.7,613.5 280.7,606.4 270.5,601.2 258.2,600.2 245.9,599.2 239.8,598.2 237.7,602.3 220.3,601.2 223.4,593 216.2,588 216.2,580.8 225.5,579.8 227.5,571.6 221.4,567.5 217.3,563.4 209,569.5 200.9,567.5 199.9,562.4 209,559.3 217.3,553.2 221.4,543 219.3,537.8 227.5,534.8 231.6,528.6" fill="#dfa000" />
<ellipse cx="61" cy="288" rx="10" ry="10" fill="#dfa000"/>
<ellipse cx="214.2" cy="473.7" rx="5" ry="5.3" fill="#dfa000"/>
<ellipse cx="183.5" cy="460" rx="3" ry="3" fill="#dfa000"/>
<ellipse cx="171.2" cy="455.3" rx="2.8" ry="2.6" fill="#dfa000"/>
<ellipse cx="239.8" cy="471" rx="2" ry="2" fill="#dfa000"/>
<ellipse cx="117.5" cy="536" rx="10" ry="8.5" fill="#dfa000"/>
<ellipse cx="244.4" cy="532.7" rx="4.5" ry="4.2" fill="#ffff00"/>
<ellipse cx="246.5" cy="548" rx="5.8" ry="5.8" fill="#ffff00"/>
<ellipse cx="226.5" cy="560.3" rx="4" ry="3" fill="#ffff00"/>
<ellipse cx="252" cy="563.4" rx="3" ry="4" fill="#ffff00"/>
<ellipse cx="292.5" cy="566.5" rx="4.6" ry="4.8" fill="#ffff00"/>
<ellipse cx="273.5" cy="588.8" rx="4" ry="3.2" fill="#ffff00"/>
<ellipse cx="232.6" cy="597" rx="7" ry="5" fill="#ffff00"/>
<ellipse cx="273" cy="589" rx="3" ry="3" fill="#ffff00"/>
<ellipse cx="295.5" cy="588.4" rx="3.5" ry="3.5" fill="#00dd00"/>
<polygon points="196.8,417 202,418 204,423 207,426 204,430.2 199.9,431.2 194.8,426 194.4,421" fill="#ff0000" />
<polygon points="277.6,562.4 284.8,561 287.8,567.5 287.2,575.7 280.7,579.4 275.6,578.7 274.1,569.5" fill="#ff0000" />
<ellipse cx="281" cy="541" rx="2.8" ry="3" fill="#ff0000"/>
<ellipse cx="288" cy="558.5" rx="2" ry="1.3" fill="#ff0000"/>
<ellipse cx="119.5" cy="537.5" rx="4.5" ry="3.5" fill="#ff0000"/>
<ellipse cx="177.8" cy="566" rx="2.8" ry="2.8" fill="#0000ff"/>
<ellipse cx="183" cy="570" rx="1.5" ry="1.5" fill="#0000ff"/>
<ellipse cx="163" cy="530" rx="2" ry="2" fill="#0000ff"/>
<ellipse cx="170" cy="365" rx="3.5" ry="4" fill="#0000ff"/>
<ellipse cx="158" cy="376" rx="2" ry="2.5" fill="#0000ff"/>
<ellipse cx="278.6" cy="526.6" rx="2" ry="2" fill="#0000ff"/>
<ellipse cx="291.5" cy="507" rx="3" ry="3" fill="#0000ff"/>
<ellipse cx="208.6" cy="594.6" rx="2" ry="2" fill="#0000ff"/>
<ellipse cx="179" cy="587.5" rx="2" ry="2" fill="#0000ff"/>
<ellipse cx="227.5" cy="592" rx="2" ry="2" fill="#0000ff"/>
<ellipse cx="295.5" cy="588.4" rx="1.6" ry="1.6" fill="#0000ff"/>
<ellipse cx="200" cy="480.5" rx="2.5" ry="2.2" fill="#0000ff"/>
<ellipse cx="227.5" cy="592.5" rx="2" ry="2" fill="#0000ff"/>
<ellipse cx="63" cy="307" rx="1.2" ry="1.5" fill="#0000ff"/>
<ellipse cx="249" cy="435.8" rx="9.2" ry="6.4" fill="#aaaaaa" transform="rotate(-15 249 435.8)"/>
<ellipse cx="297.6" cy="435.8" rx="9.7" ry="9.7" fill="#aaaaaa"/>
<ellipse cx="316.5" cy="456.8" rx="7.2" ry="5" fill="#aaaaaa"/>
<ellipse cx="293" cy="470.6" rx="5" ry="5.6" fill="#aaaaaa"/>
<ellipse cx="333" cy="482" rx="7" ry="7.7" fill="#aaaaaa"/>
<ellipse cx="375.5" cy="500" rx="5.6" ry="6" fill="#aaaaaa"/>
<ellipse cx="457" cy="595" rx="8" ry="8" fill="#aaaaaa"/>
<ellipse cx="571.4" cy="611.9" rx="2.7" ry="2.9" fill="#aaaaaa"/>
<ellipse cx="560" cy="695.5" rx="2.5" ry="3" fill="#aaaaaa"/>
<ellipse cx="158.5" cy="468.5" rx="4" ry="4" fill="#aaaaaa"/>
<ellipse cx="156.5" cy="507" rx="2.3" ry="7" fill="#aaaaaa"/>
<ellipse cx="157.5" cy="495.5" rx="2" ry="1.6" fill="#aaaaaa"/>
<ellipse cx="164.6" cy="456.3" rx="2.5" ry="2.5" fill="#aaaaaa"/>
<ellipse cx="672.7" cy="577.7" rx="4.7" ry="5.1" fill="#aaaaaa"/>
<ellipse cx="663.3" cy="594.6" rx="2.9" ry="2.7" fill="#aaaaaa"/>
</g></g>
<polygon points="787.5,485 800,481 810,479 816,466 820,471 826,469 827.5,477.5 832.5,480 839,475 839,490 835,497.5 840,495 832.5,512.5 827.5,519 830,505 825,510 817.5,512.5 807.5,519 797.5,522.5 789,530 784,524 787.5,512.5 782.5,515 784,505 786,495" fill="#0000ff" />
<polygon points="779,457.5 784,450 787.5,455 789,465 789,480 796,480 800,474 801,478 795,483 787,486 783,475 780,465" fill="#aaaaaa" />
<polygon points="785,502 787,499.5 792,499.5 794,502 792,504.5 787,504.5" fill="#aaaaaa" />
<polygon points="842.5,482.5 845,490 849,492.5 851,485 857.5,497.5 855,504 850,500 847.5,506 842.5,497.5" fill="#0000ff" />
<polygon points="717.3,525 722,522 735,521 746,522.5 750.7,524 745,527.5 730,528.2 720,527.5" fill="#aaaaaa" />
<polygon points="717.3,525 721,523.4 726.8,524 725,526.7 719,526.7" fill="#0000ff" />
<polygon points="743.5,569.2 745.9,568 751.9,576.4 755.5,572.8 760.2,574 765,570.4 769.3,565.6 769.8,571.6 767.4,576.4 760.2,578.3 751.9,578.3 747.1,575.9" fill="#0000ff" />
<polygon points="751.9,583.5 760.2,582.3 768.6,582.3 767.9,590.7 772.2,591.9 777,593 777,595.5 769.8,605 762.6,611 747.1,612.2 749.5,602.6 755.5,595.5 762.6,590.7 755.5,593 751,590" fill="#0000ff" />
<polygon points="768.6,582.3 774.6,576.4 781.7,574 790,576.4 786.5,582.3 779.3,591.9 777,593 772.2,591.9 767.9,590.7" fill="#aaaaaa" />
<polygon points="747.1,612.2 762.6,611 763.8,619.3 760.2,627.7 755.5,632.5 749.5,630 744.7,626.5 743.5,618.1" fill="#aaaaaa" />
<polygon points="745,626 748,624.5 750.5,627 748.5,630 745.5,629.5" fill="#0000ff" />
<polygon points="780,547.7 782.9,548.9 784.1,559.7 787.7,566.8 792.5,568 786.5,571.6 782.9,572.8 780,566.8 779.3,557.3" fill="#aaaaaa" />
<polygon points="782.9,548.9 786.5,554.9 790,558.5 794.8,555.4 797.2,558.5 794.8,565.6 791.3,566.8 787.7,565.6 784.6,560.9" fill="#0000ff" />
<polygon points="764,543 767,544 766,548 767,552.5 764,551 765,547" fill="#0000ff" />
<polygon points="520,536 528,534 536,536 540,540 534,541 524,540" fill="#0000ff" />
<polygon points="695.8,557.3 703,547.7 711.3,542.5 718.5,540 718.5,546.5 716,552.5 707.7,556 700.6,559.2" fill="#aaaaaa" />
<polygon points="717.3,554.4 724.4,553 725.6,557.3 720.9,559.7 717.8,558.5" fill="#aaaaaa" />
<polygon points="683.2,543 689.8,540.6 691.5,545.3 688.6,550.8 683.9,549" fill="#aaaaaa" />
<polygon points="719,565 723,564 724.4,568 721,569.7 719,568" fill="#aaaaaa" />
<polygon points="38,294 46.3,309.5 47.4,330.6 67.4,330.6 69.5,349.5 67.4,370.6 65.3,389.6 69.5,402 71.6,414.9 69.5,421 62,427.5 55.8,427.5 47.4,423.3 41,415 39,402 39,385.4 38,368.5 39,349.5 41,337 41,322 35.8,307.4 32,298" fill="#97e4b1" />
<path d="M53.7 334.8 L51 350 L49.5 364.3 M62 339 L57 360 L51.6 381 M58 377 L54 392 L51.6 406.4 M62 402 L59 412 L55.8 419 M45 330 L44 345 M64 345 L60 352 M46 390 L48 400 M60 385 L57 395" stroke="#aecff0" stroke-width="1.6" fill="none" stroke-opacity="0.8"/>
<polygon points="455,630 465,619 485,619 495,631 507.5,631 512.5,645 515,654 505,656 490,660 475,656 470,647.5 460,652 455,655 440,662.5 424,660 432,650 440,642.5 448,636" fill="#aecff0" />
<polygon points="512.5,669 497.5,667.5 487.5,672.5 481,687.5 484,710 486,730 495,740 502.5,735 505,720 500,700 506,680 512.5,675" fill="#aecff0" />
<polygon points="490,672 497.5,667.5 512.5,668 525,666 536,667 540,675 525,674 512.5,675 500,676" fill="#aecff0" />
<polygon points="536,669 550,670 557.5,677.5 560,692.5 557.5,705 552.5,717.5 547.5,720 550,710 545,695 536,702.5 531,700 536,687.5 535,675" fill="#aecff0" />
<polygon points="550,656 562.5,659 572.5,666 579,674 575,680 565,677.5 557.5,670" fill="#aecff0" />
<polygon points="515,656 535,659 550,656 545,662 530,664 518,660" fill="#aecff0" />
<polygon points="597.5,704 585,710 572.5,715 562.5,722.5 554,729 545,731 544,737.5 552.5,740 570,732.5 582.5,722.5 595,712.5" fill="#aecff0" />
<polygon points="586,696 590,690 600,684 615,677.5 625,672.5 627.5,680 620,687.5 607.5,692.5 595,699" fill="#aecff0" />
<polygon points="191,281 205,282.5 215,286 230,284 234,287.5 224,292.5 241,295 232.5,306 227.5,302.5 217.5,309 206,312.5 205,307.5 213,300 207,294 200,301 196,302.5 202,293 197.5,287.5" fill="#aecff0" />
<polygon points="215,342 219,341 224,348 222,351 217,348" fill="#aecff0" />
<polygon points="230,360 235,368 228,372 215,378 211,381 219,385 227.5,391 242,392 250,387 262,383 270,378 282,372 280,368 266,372 257,376 248,378 243,372 238,364" fill="#aecff0" />
<polygon points="262,431 266.4,426 275,428 283,433 291,436.4 283,437 274.5,435.3 266,437" fill="#aecff0" />
<polygon points="328.7,463 331,466 325,476 318,486 311.4,491.6 312,487 319,476 324,468" fill="#aecff0" />
<polygon points="348.7,539.6 356,536.9 362.5,546 366.2,557 369,568.2 373.6,579.3 375.4,586.6 373.6,595.9 369.9,596.8 368,586.6 365.3,575.6 359.8,568.2 354.2,559 347.8,551.6 345.9,544.2" fill="#aecff0" />
<polygon points="329.4,542.4 333,536 337.6,531.3 341,533 338,541 337.6,548 339.5,560.8 337.5,570 335,570 335.5,560 334,552 332,546" fill="#aecff0" />
<polygon points="339.5,571.9 342,571 346.9,577.4 352.4,590.3 356,595.9 353.3,600.5 349.6,592.2 343.2,581" fill="#aecff0" />
<polygon points="330,541 338,538 346,542 344,546 336,544" fill="#aecff0" />
<polygon points="387,612 390,607 394,606 400,614 400,621 396,625 390,622" fill="#aecff0" />
<polygon points="457,597 463,596 466,604 463,610 458,607" fill="#aecff0" />
<polygon points="542,286 552,285 560,290 556,297 550,300 546,293" fill="#aecff0" />
<polygon points="550,314 558,312 562,319 556,324 551,320" fill="#aecff0" />
<polygon points="620,541 624,540 622,552 617,563 615,560 618,550" fill="#aecff0" />
<polygon points="576,466 582,465 586,468 580,470" fill="#aecff0" />
<polygon points="612.4,594 616,589 621,588.5 627,592 622,594 617,597.4 613,597" fill="#aecff0" />
<polygon points="583,674 586.5,673.5 587.6,678 585,681.2 582.5,678" fill="#aecff0" />
<polygon points="335,380 345,380 343,385 337,384" fill="#aecff0" />
<polygon points="363,384 370,385 371,391 365,390" fill="#aecff0" />
<polygon points="419,331 425,332 432,338 430,341 423,337" fill="#aecff0" />
<polygon points="380,361 388,360 395,364 386,365" fill="#aecff0" />
<polygon points="662,458 670,456 678,462 672,466 664,464" fill="#aecff0" />
<polygon points="676,468 686,466 692,474 684,478 678,474" fill="#aecff0" />
<path d="M77 556 L76 565 L73 573 L71 580 M70 574 L74 578 L73 582 L69 581 Z" stroke="#aecff0" stroke-width="1.5" fill="none"/>
<path d="M46.1 308.6 L52.6 313.9 L59.3 319.2 L66.0 324.3 L72.8 329.4 L79.7 334.3 L86.7 339.1 L93.8 343.8 L100.9 348.5 L108.1 352.9 L115.3 357.3 L122.7 361.6 L130.1 365.7 L137.5 369.8 L145.1 373.7 L152.7 377.4 L160.3 381.1 L168.0 384.7 L175.8 388.1 L183.6 391.4 L191.4 394.6 L199.4 397.6 L207.3 400.5 L215.3 403.4 L223.4 406.0 L231.5 408.6 L239.6 411.0 L247.8 413.3 L256.0 415.4 L264.2 417.5 L272.5 419.4 L280.7 421.1 L289.1 422.8 L297.4 424.3 L305.8 425.7 L314.2 426.9 L322.6 428.0 L331.0 429.0 L339.5 429.8 L347.9 430.5 L356.4 431.1 L364.8 431.6 L373.3 431.9 L381.8 432.0 L390.3 432.1 M183.1 391.2 L176.4 407.3 L169.8 423.5 L163.1 439.6 L156.3 455.8 L149.6 472.1 L142.9 488.3 L150.0 507.5 L156.0 525.0 L160.0 530.7 L166.0 547.0 L172.3 565.4 L173.3 585.9 L175.3 589.0 M263.2 417.2 L259.3 433.7 L255.4 450.1 L251.4 466.6 L247.4 483.1 L243.5 499.6 L239.5 516.2 L235.5 532.8 L231.5 549.5 L227.5 566.2 L223.4 583.0 L219.4 599.8 M329.7 428.8 L322.0 515.0 L317.5 618.5 M329.7 428.8 L331.6 411.3 L333.6 393.7 L335.5 376.1 L337.4 358.6 L336.0 380.0 L338.0 359.0 L287.5 339.5 L280.0 326.0 L269.0 323.0 L231.0 265.0 L241.0 241.0 M155.0 202.5 L137.5 227.5 L149.0 237.5 L142.5 255.0 L146.0 259.0 L136.0 275.0 L140.0 297.5 L135.0 322.5 L140.0 345.0 L137.5 355.0 L155.0 362.5 L154.0 379.0 M337.5 106.0 L334.0 120.0 M330.0 144.0 L322.5 172.5 M314.5 204.5 L303.0 253.0 L287.0 250.0 L264.0 242.0 L264.5 249.0 M386.9 619.8 L386.9 597.7 L387.0 575.6 L387.0 553.6 L397.5 542.2 L407.7 530.5 L417.4 518.7 L426.8 506.8 L435.8 494.8 L444.4 482.7 M550.0 565.0 L556.0 570.0 L562.0 595.7 L568.8 624.7 L572.2 629.9 L584.2 642.7 L597.9 642.7 L608.1 643.5 L611.6 649.5 L621.8 648.7 L632.1 641.8 L638.9 641.0 L639.8 647.0 M638.0 380.0 L642.0 388.0 L650.0 400.0 L660.0 410.0 L664.0 420.0 L667.5 430.0 L675.0 440.0 L682.5 450.0 L675.0 455.0 L660.0 455.0 L652.5 465.0 L655.0 475.0 L665.0 480.0 L670.0 490.0 L680.0 497.5 L690.0 500.0 L700.0 497.5 L695.0 487.5 L700.0 480.0 L705.0 487.5 L770.0 455.0 L772.5 460.0 M692.2 582.3 L691.0 572.8 L701.8 569.2 L711.3 564.4" fill="none" stroke="#1a1a1a" stroke-width="0.8" stroke-linejoin="round" shape-rendering="auto"/>
<path d="M0 0H880V760H0Z M21 20H861V742H21Z" fill="#fff" fill-rule="evenodd"/>
<rect x="21.5" y="20.5" width="839" height="721" fill="none" stroke="#000" stroke-width="1"/>
<rect x="1.5" y="1.5" width="878" height="758" fill="none" stroke="#000" stroke-width="1"/>
<path d="M86 15.5V20.5 M184 15.5V20.5 M242 15.5V20.5 M282 15.5V20.5 M312 15.5V20.5 M336.5 15.5V20.5 M359 15.5V20.5 M378.5 15.5V20.5 M398 15.5V20.5 M419 15.5V20.5 M440 15.5V20.5 M465 15.5V20.5 M495 15.5V20.5 M535 15.5V20.5 M593 15.5V20.5 M691 15.5V20.5 M38 741.5V746.5 M186 741.5V746.5 M321.75 741.5V746.5 M455 741.5V746.5 M591.75 741.5V746.5 M739.5 741.5V746.5 M15.5 286.5H21.5 M15.5 500H21.5 M15.5 698.75H21.5 M860.5 151.5H866.5 M860.5 423H866.5 M860.5 642.5H866.5" stroke="#000" stroke-width="2" fill="none"/>
<g font-size="9.6" text-anchor="middle" shape-rendering="auto">
<text x="86" y="11.2">170°W</text>
<text x="184" y="11.2">160°W</text>
<text x="242" y="11.2">150°W</text>
<text x="282" y="11.2">140°W</text>
<text x="336.5" y="11.2">120°W</text>
<text x="378.5" y="11.2">100°W</text>
<text x="419" y="11.2">80°W</text>
<text x="465" y="11.2">60°W</text>
<text x="495" y="11.2">50°W</text>
<text x="535" y="11.2">40°W</text>
<text x="593" y="11.2">30°W</text>
<text x="691" y="11.2">20°W</text>
<text x="38" y="756">120°W</text>
<text x="186" y="756">110°W</text>
<text x="321.75" y="756">100°W</text>
<text x="455" y="756">90°W</text>
<text x="591.75" y="756">80°W</text>
<text x="739.5" y="756">70°W</text>
<text transform="translate(12.2,286.5) rotate(-90)">60°N</text>
<text transform="translate(12.2,500) rotate(-90)">50°N</text>
<text transform="translate(12.2,698.75) rotate(-90)">40°N</text>
<text transform="translate(876,151.5) rotate(-90)">60°N</text>
<text transform="translate(876,423) rotate(-90)">50°N</text>
<text transform="translate(876,642.5) rotate(-90)">40°N</text>
</g>
<g shape-rendering="auto">
<rect x="33" y="33" width="11" height="21.5" fill="#bc0000"/><rect x="65" y="33" width="11" height="21.5" fill="#bc0000"/>
<path d="M54.40 34.10L55.90 37.00L57.50 36.40L56.80 41.10L59.80 38.70L60.30 40.70L62.80 40.10L62.00 43.10L63.10 44.00L59.30 47.40L59.80 49.30L55.00 48.70L55.00 53.80L53.80 53.80L53.80 48.70L49.00 49.30L49.50 47.40L45.70 44.00L46.80 43.10L46.00 40.10L48.50 40.70L49.00 38.70L52.00 41.10L51.30 36.40L52.90 37.00Z" fill="#bc0000"/>
<g font-size="10.5">
<text x="82" y="40.5" textLength="88.5" lengthAdjust="spacingAndGlyphs">Natural Resources</text>
<text x="82" y="54.5" textLength="36.5" lengthAdjust="spacingAndGlyphs">Canada</text>
<text x="186.5" y="40.5" textLength="108" lengthAdjust="spacingAndGlyphs">Ressources naturelles</text>
<text x="186.5" y="54.5" textLength="36.5" lengthAdjust="spacingAndGlyphs">Canada</text>
</g>
<text x="551.5" y="59.3" font-size="27" textLength="185" lengthAdjust="spacingAndGlyphs" stroke="#000" stroke-width="0.35">Drought Code</text>
<text x="551.5" y="88.8" font-size="27" textLength="269.5" lengthAdjust="spacingAndGlyphs" stroke="#000" stroke-width="0.35">Indice de sécheresse</text>
<text x="551.5" y="119.3" font-size="22" textLength="121.5" lengthAdjust="spacingAndGlyphs" stroke="#000" stroke-width="0.25">2020-05-21</text>
<rect x="625.5" y="135.5" width="34" height="17" fill="#0000ff" stroke="#000" stroke-width="1" shape-rendering="crispEdges"/>
<text x="675.5" y="149.7" font-size="16.3" textLength="39.3" lengthAdjust="spacingAndGlyphs" stroke="#000" stroke-width="0.15">0 - 80</text>
<rect x="625.5" y="160.5" width="34" height="17" fill="#00dd00" stroke="#000" stroke-width="1" shape-rendering="crispEdges"/>
<text x="675.5" y="174.7" font-size="16.3" textLength="56.9" lengthAdjust="spacingAndGlyphs" stroke="#000" stroke-width="0.15">80 - 190</text>
<rect x="625.5" y="185.5" width="34" height="17" fill="#ffff00" stroke="#000" stroke-width="1" shape-rendering="crispEdges"/>
<text x="675.5" y="199.7" font-size="16.3" textLength="65.6" lengthAdjust="spacingAndGlyphs" stroke="#000" stroke-width="0.15">190 - 300</text>
<rect x="625.5" y="210.5" width="34" height="17" fill="#dfa000" stroke="#000" stroke-width="1" shape-rendering="crispEdges"/>
<text x="675.5" y="224.7" font-size="16.3" textLength="65.6" lengthAdjust="spacingAndGlyphs" stroke="#000" stroke-width="0.15">300 - 425</text>
<rect x="625.5" y="235.5" width="34" height="17" fill="#ff0000" stroke="#000" stroke-width="1" shape-rendering="crispEdges"/>
<text x="675.5" y="249.7" font-size="16.3" textLength="38.6" lengthAdjust="spacingAndGlyphs" stroke="#000" stroke-width="0.15">&gt; 425</text>
<rect x="625.5" y="260.5" width="34" height="17" fill="#aaaaaa" stroke="#000" stroke-width="1" shape-rendering="crispEdges"/>
<text x="675.5" y="274.7" font-size="16.3" textLength="56.9" lengthAdjust="spacingAndGlyphs" stroke="#000" stroke-width="0.15">Nil / s.o.</text>
<text x="65.5" y="649.5" font-size="11.5" textLength="231" lengthAdjust="spacingAndGlyphs">Map created at 01:35 (UTC) on 2020-05-22</text>
<text x="65.5" y="664.5" font-size="11.5" textLength="216.5" lengthAdjust="spacingAndGlyphs">Carte créée le 2020-05-22 (UTC) à 01:35</text>
<g shape-rendering="crispEdges"><rect x="47.5" y="706.5" width="312" height="8" fill="#fff" stroke="#000" stroke-width="1"/>
<path d="M125.5 706.5v8M203.5 706.5v8M281.5 706.5v8M47.5 710.5H125.5M203.5 710.5H281.5" stroke="#000" stroke-width="1" fill="none"/></g>
<g font-size="10.3" text-anchor="middle">
<text x="46.5" y="728.8">0</text>
<text x="124.5" y="728.8">500</text>
<text x="202.5" y="728.8">1000</text>
<text x="281" y="728.8">1500</text>
<text x="360" y="728.8">2000</text>
<text x="378.7" y="728.8" text-anchor="start" textLength="11.8" lengthAdjust="spacingAndGlyphs">km</text>
</g>
<text x="690.5" y="730.8" font-size="58" style="font-family:'Liberation Serif',serif" textLength="156.5" lengthAdjust="spacingAndGlyphs" stroke="#000" stroke-width="1.1">Canada</text>
<rect x="826" y="692.9" width="5.9" height="11" fill="#ff0000"/><rect x="841.1" y="692.9" width="5.9" height="11" fill="#ff0000"/>
<path d="M836.50 693.90L837.13 695.12L837.80 694.87L837.51 696.84L838.77 695.83L838.98 696.67L840.03 696.42L839.69 697.68L840.15 698.06L838.56 699.49L838.77 700.28L836.84 700.03L836.84 702.17L836.16 702.17L836.16 700.03L834.23 700.28L834.44 699.49L832.85 698.06L833.31 697.68L832.97 696.42L834.02 696.67L834.23 695.83L835.49 696.84L835.20 694.87L835.87 695.12Z" fill="#ff0000"/>
</g>
</svg>
</body></html>
